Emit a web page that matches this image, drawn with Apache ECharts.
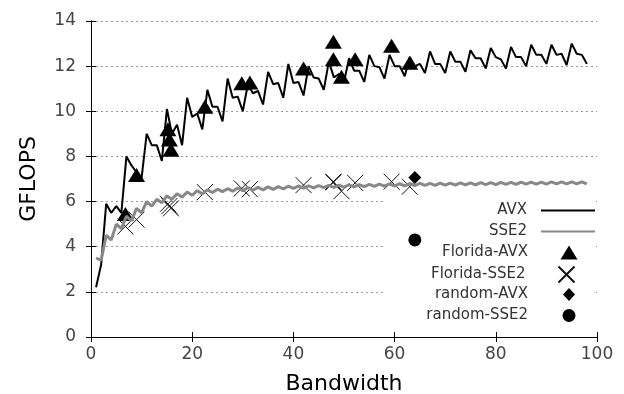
<!DOCTYPE html>
<html>
<head>
<meta charset="utf-8">
<script src="https://cdn.jsdelivr.net/npm/echarts@6/dist/echarts.min.js"></script>
<style>
  html, body { margin: 0; padding: 0; background: #fff; }
  #chart { width: 624px; height: 394px; }
</style>
</head>
<body>
<div id="chart"></div>
<script>
// bandwidth sample points for the two measured curves
const bandwidth = [1, 2, 3, 4, 5, 6, 7, 8, 9, 10, 11, 12, 13, 14, 15, 16, 17, 18, 19, 20,
  21, 22, 23, 24, 25, 26, 27, 28, 29, 30, 31, 32, 33, 34, 35, 36, 37, 38, 39, 40,
  41, 42, 43, 44, 45, 46, 47, 48, 49, 50, 51, 52, 53, 54, 55, 56, 57, 58, 59, 60,
  61, 62, 63, 64, 65, 66, 67, 68, 69, 70, 71, 72, 73, 74, 75, 76, 77, 78, 79, 80,
  81, 82, 83, 84, 85, 86, 87, 88, 89, 90, 91, 92, 93, 94, 95, 96, 97, 98];

const avx = [2.2, 3.2, 5.9, 5.5, 5.8, 5.5, 8.0, 7.6, 7.3, 7.05,
  9.0, 8.5, 8.5, 7.8, 10.1, 9.0, 9.4, 8.5, 10.6, 9.75,
  9.9, 9.2, 10.95, 10.2, 10.2, 9.55, 11.45, 10.6, 10.65, 10.0,
  11.2, 10.8, 10.9, 10.3, 11.75, 11.2, 11.25, 10.6, 12.1, 11.25,
  11.3, 10.7, 12.0, 11.5, 11.45, 10.95, 12.2, 11.5, 11.65, 11.3,
  12.35, 11.8, 11.8, 11.3, 12.5, 12.0, 11.95, 11.45, 12.5, 12.0,
  12.0, 11.55, 12.4, 12.0, 12.1, 11.7, 12.65, 12.1, 12.1, 11.7,
  12.65, 12.2, 12.2, 11.75, 12.7, 12.35, 12.35, 11.9, 12.8, 12.4,
  12.3, 11.9, 12.85, 12.4, 12.4, 12.0, 12.95, 12.5, 12.5, 12.1,
  12.95, 12.5, 12.55, 12.05, 13.0, 12.55, 12.5, 12.1];

const sse2 = [3.5, 3.4, 4.5, 4.3, 5.0, 4.8, 5.35, 5.15, 5.7, 5.5,
  6.0, 5.8, 6.1, 5.95, 6.25, 6.1, 6.35, 6.2, 6.42, 6.28,
  6.48, 6.34, 6.52, 6.4, 6.55, 6.44, 6.57, 6.46, 6.6, 6.48,
  6.62, 6.5, 6.63, 6.52, 6.65, 6.54, 6.66, 6.56, 6.68, 6.58,
  6.69, 6.6, 6.7, 6.61, 6.71, 6.62, 6.72, 6.63, 6.73, 6.64,
  6.74, 6.65, 6.75, 6.66, 6.76, 6.67, 6.77, 6.68, 6.78, 6.69,
  6.79, 6.7, 6.8, 6.71, 6.81, 6.72, 6.81, 6.72, 6.82, 6.73,
  6.82, 6.73, 6.83, 6.74, 6.83, 6.74, 6.84, 6.75, 6.84, 6.75,
  6.85, 6.76, 6.85, 6.76, 6.86, 6.77, 6.86, 6.77, 6.86, 6.77,
  6.87, 6.78, 6.87, 6.78, 6.87, 6.78, 6.87, 6.78];

// Florida matrices: bandwidth and measured GFLOPS
const floridaBw = [6.8, 9, 15.2, 15.5, 15.8, 22.5, 29.8, 31.4, 42, 47.9, 47.9, 49.5, 52.2, 59.4, 63];
const floridaAvx = [5.45, 7.18, 9.2, 8.75, 8.3, 10.2, 11.24, 11.27, 11.9, 13.08, 12.3, 11.53, 12.3, 12.9, 12.15];
const floridaSse2 = [4.9, 5.2, 5.9, 5.8, 5.7, 6.42, 6.58, 6.55, 6.73, 6.88, 6.85, 6.46, 6.83, 6.88, 6.66];

// random matrix
const randomBw = [64];
const randomAvx = [7.07];
const randomSse2 = [4.3];

const xTicks = [0, 20, 40, 60, 80, 100];
const yTicks = [0, 2, 4, 6, 8, 10, 12, 14];

const pairs = (xs, ys) => xs.map((x, i) => [x, ys[i]]);

const FONT = "DejaVu Sans";
const crossPath = "path://M0,0L16,16M16,0L0,16";

// one key block per marker size, all text right-aligned at x=528
function keyBlock(names, top, w, h, iconCenter, extra) {
  return Object.assign({
    orient: "vertical",
    top: top,
    right: 624 - (iconCenter + w / 2),
    align: "right",
    itemWidth: w,
    itemHeight: h,
    itemGap: 6,
    padding: 0,
    selectedMode: false,
    textStyle: {
      fontFamily: FONT, fontSize: 15, lineHeight: 15, color: "#333",
      padding: [0, iconCenter - w / 2 - 5 - 528, 0, 0],
    },
    data: names,
  }, extra || {});
}

const chart = echarts.init(document.getElementById("chart"), null, { renderer: "canvas" });

const option = {
  animation: false,
  backgroundColor: "#fff",
  grid: { left: 91, right: 27, top: 21, bottom: 57, containLabel: false, outerBoundsMode: "none" },
  graphic: {
    elements: [
      {
        // key area blanks out the grid lines behind it
        type: "rect",
        left: 385,
        top: 193,
        z: 1,
        silent: true,
        shape: { width: 208, height: 139 },
        style: { fill: "#fff" },
      },
    ],
  },
  legend: [
    keyBlock(["AVX", "SSE2"], 203, 54, 14, 569, { itemStyle: { opacity: 0 } }),
    keyBlock(["Florida-AVX"], 245, 17, 14, 569),
    keyBlock(["Florida-SSE2"], 264, 16, 16, 569),
    keyBlock(["random-AVX"], 287, 12, 13, 569),
    keyBlock(["random-SSE2"], 308, 13, 13, 569),
  ],
  xAxis: [
    {
      type: "value",
      min: xTicks[0],
      max: xTicks[xTicks.length - 1],
      interval: 20,
      name: "Bandwidth",
      nameLocation: "middle",
      nameGap: 36,
      nameTextStyle: { fontFamily: FONT, fontSize: 22, color: "#000" },
      axisLine: { show: true, onZero: false, lineStyle: { color: "#000", width: 1 } },
      axisTick: { show: true, inside: true, length: 5, lineStyle: { color: "#000" } },
      axisLabel: { fontFamily: FONT, fontSize: 17, color: "#444", margin: 9 },
      splitLine: { show: false },
    },
    {
      type: "value",
      position: "top",
      min: xTicks[0],
      max: xTicks[xTicks.length - 1],
      interval: 20,
      z: 3,
      axisLine: { show: true, lineStyle: { color: "#000", width: 1 } },
      axisTick: { show: true, inside: true, length: 5, lineStyle: { color: "#000" } },
      axisLabel: { show: false },
      splitLine: { show: false },
    },
  ],
  yAxis: [
    {
      type: "value",
      min: yTicks[0],
      max: yTicks[yTicks.length - 1],
      interval: 2,
      name: "GFLOPS",
      nameLocation: "middle",
      nameGap: 51,
      nameTextStyle: { fontFamily: FONT, fontSize: 22, color: "#000" },
      axisLine: { show: true, onZero: false, lineStyle: { color: "#000", width: 1 } },
      axisTick: { show: true, inside: true, length: 5, lineStyle: { color: "#000" } },
      axisLabel: { fontFamily: FONT, fontSize: 17, color: "#444", margin: 15 },
      splitLine: { show: true, lineStyle: { color: "#999", width: 1, type: [2, 3] } },
    },
    {
      type: "value",
      position: "right",
      min: yTicks[0],
      max: yTicks[yTicks.length - 1],
      interval: 2,
      z: 3,
      axisLine: { show: true, lineStyle: { color: "#000", width: 1 } },
      axisTick: { show: true, inside: true, length: 5, lineStyle: { color: "#000" } },
      axisLabel: { show: false },
      splitLine: { show: false },
    },
  ],
  series: [
    {
      name: "AVX",
      type: "line",
      data: pairs(bandwidth, avx),
      showSymbol: false,
      lineStyle: { color: "#000", width: 2 },
      itemStyle: { color: "#000" },
    },
    {
      name: "SSE2",
      type: "line",
      data: pairs(bandwidth, sse2),
      showSymbol: false,
      lineStyle: { color: "#888", width: 3 },
      itemStyle: { color: "#888" },
    },
    {
      name: "Florida-AVX",
      type: "scatter",
      data: pairs(floridaBw, floridaAvx),
      symbol: "triangle",
      symbolSize: [17, 14],
      itemStyle: { color: "#000", opacity: 1 },
    },
    {
      name: "Florida-SSE2",
      type: "scatter",
      data: pairs(floridaBw, floridaSse2),
      symbol: crossPath,
      symbolSize: 16,
      itemStyle: { color: "none", borderColor: "#111", borderWidth: 1, opacity: 1 },
    },
    {
      name: "random-AVX",
      type: "scatter",
      data: pairs(randomBw, randomAvx),
      symbol: "diamond",
      symbolSize: 13,
      itemStyle: { color: "#000", opacity: 1 },
    },
    {
      name: "random-SSE2",
      type: "scatter",
      data: pairs(randomBw, randomSse2),
      symbol: "circle",
      symbolSize: 13,
      itemStyle: { color: "#000", opacity: 1 },
    },
  ],
};

chart.setOption(option);
</script>
</body>
</html>
